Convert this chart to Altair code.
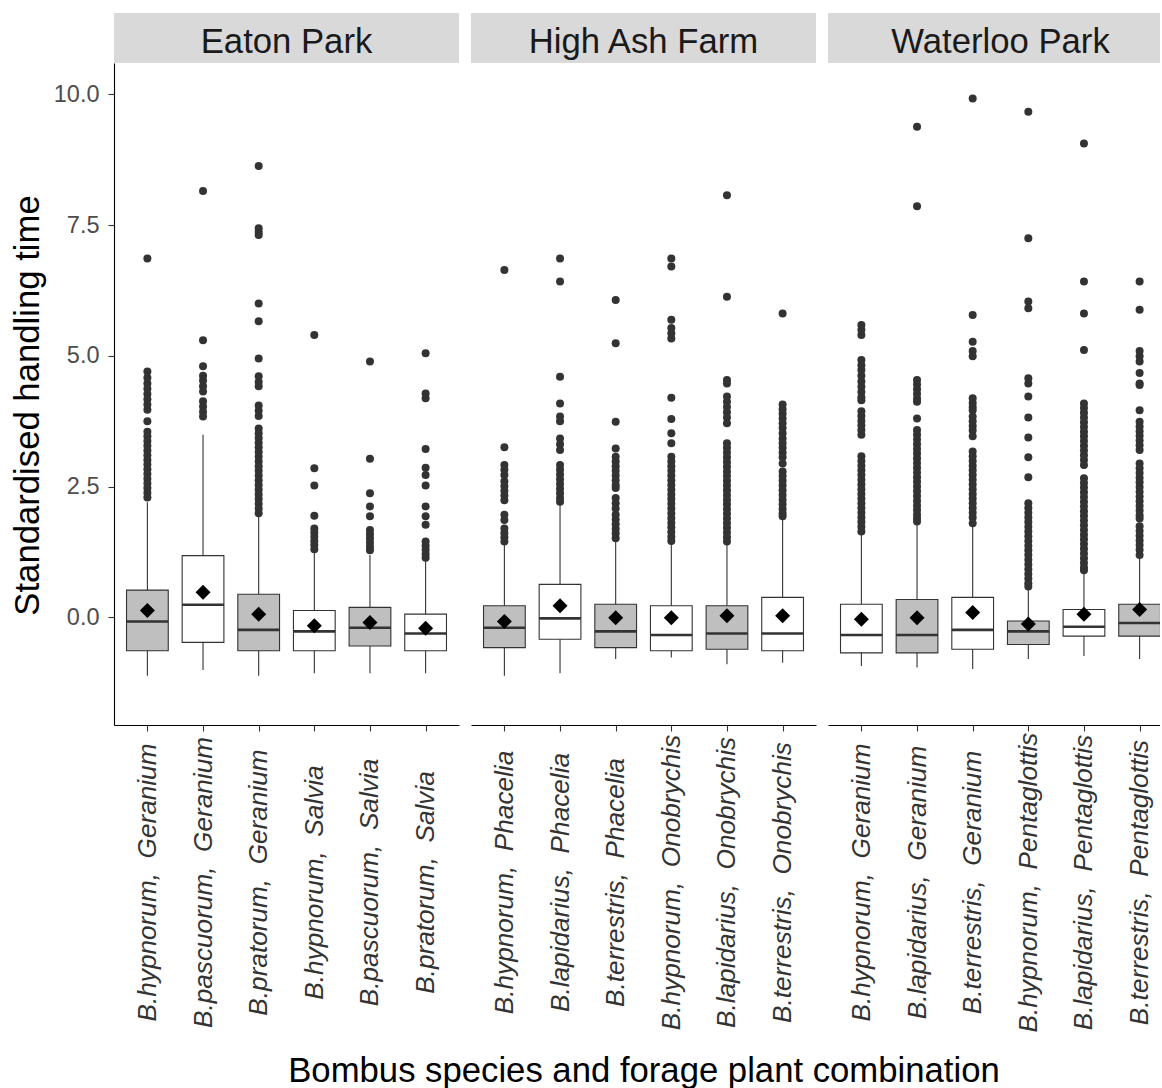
import json

import altair as alt
import pandas as pd

# ---------------------------------------------------------------------------
# Summary statistics of standardised handling time per bee/plant combination
# ---------------------------------------------------------------------------
sites = ["Eaton Park", "High Ash Farm", "Waterloo Park"]

NB = "\u00a0"  # keeps the double gap between species and plant in SVG text

eaton_labels = [f"B.hypnorum, {NB}Geranium", f"B.pascuorum, {NB}Geranium", f"B.pratorum, {NB}Geranium",
                f"B.hypnorum, {NB}Salvia", f"B.pascuorum, {NB}Salvia", f"B.pratorum, {NB}Salvia"]
eaton_lo = [-1.12, -1.01, -1.12, -1.07, -1.07, -1.07]
eaton_q1 = [-0.64, -0.48, -0.64, -0.64, -0.55, -0.64]
eaton_median = [-0.08, 0.24, -0.24, -0.27, -0.20, -0.31]
eaton_q3 = [0.52, 1.18, 0.44, 0.13, 0.19, 0.06]
eaton_hi = [2.20, 3.49, 1.96, 1.26, 1.19, 1.10]
eaton_mean = [0.13, 0.48, 0.06, -0.16, -0.10, -0.21]
eaton_group = ["A", "B", "A", "B", "A", "B"]
eaton_outliers = [
    [6.86, 4.70, 4.58, 4.47, 4.37, 4.27, 4.17, 4.07, 3.97, 3.75, 3.55, 3.46, 3.37, 3.28, 3.19,
     3.10, 3.01, 2.92, 2.83, 2.74, 2.65, 2.56, 2.47, 2.38, 2.29],
    [8.15, 5.30, 4.80, 4.62, 4.53, 4.42, 4.32, 4.13, 4.03, 3.93, 3.84],
    [8.63, 7.44, 7.37, 7.31, 6.00, 5.66, 4.95, 4.61, 4.50, 4.42, 4.05, 3.95, 3.85, 3.61, 3.52,
     3.43, 3.34, 3.25, 3.16, 3.07, 2.98, 2.89, 2.80, 2.71, 2.62, 2.53, 2.44, 2.35, 2.26, 2.17,
     2.08, 1.99],
    [5.40, 2.85, 2.52, 1.94, 1.70, 1.62, 1.54, 1.46, 1.38, 1.30],
    [4.89, 3.03, 2.37, 2.12, 1.93, 1.67, 1.59, 1.51, 1.43, 1.35, 1.28],
    [5.05, 4.28, 4.19, 3.22, 2.86, 2.72, 2.52, 2.12, 1.93, 1.77, 1.45, 1.37, 1.29, 1.21, 1.14],
]

highash_labels = [f"B.hypnorum, {NB}Phacelia", f"B.lapidarius, {NB}Phacelia", f"B.terrestris, {NB}Phacelia",
                  f"B.hypnorum, {NB}Onobrychis", f"B.lapidarius, {NB}Onobrychis", f"B.terrestris, {NB}Onobrychis"]
highash_lo = [-1.12, -1.07, -0.80, -0.77, -0.90, -0.87]
highash_q1 = [-0.58, -0.42, -0.58, -0.64, -0.61, -0.64]
highash_median = [-0.20, -0.02, -0.27, -0.34, -0.31, -0.31]
highash_q3 = [0.22, 0.63, 0.25, 0.22, 0.22, 0.38]
highash_hi = [1.42, 2.18, 1.48, 1.42, 1.42, 1.90]
highash_mean = [-0.08, 0.22, -0.01, -0.01, 0.03, 0.03]
highash_group = ["A", "B", "A", "B", "A", "B"]
highash_outliers = [
    [6.64, 3.25, 2.91, 2.82, 2.72, 2.60, 2.51, 2.42, 2.33, 2.24, 1.96, 1.86, 1.70, 1.61, 1.53, 1.45],
    [6.86, 6.42, 4.60, 4.09, 3.84, 3.75, 3.42, 3.31, 3.20, 2.91, 2.82, 2.73, 2.64, 2.55, 2.46,
     2.37, 2.28, 2.21],
    [6.07, 5.24, 3.74, 3.23, 3.07, 2.98, 2.89, 2.80, 2.71, 2.62, 2.53, 2.47, 2.28, 2.18, 2.08,
     1.96, 1.87, 1.78, 1.69, 1.60, 1.51],
    [6.86, 6.71, 5.69, 5.53, 5.43, 5.33, 4.20, 3.79, 3.52, 3.33, 3.07, 2.98, 2.89, 2.80, 2.71,
     2.62, 2.53, 2.44, 2.35, 2.26, 2.17, 2.08, 1.99, 1.90, 1.81, 1.72, 1.63, 1.54, 1.46],
    [8.07, 6.13, 4.54, 4.47, 4.22, 4.12, 4.02, 3.92, 3.82, 3.71, 3.33, 3.24, 3.15, 3.06, 2.97,
     2.88, 2.79, 2.70, 2.61, 2.52, 2.43, 2.34, 2.25, 2.16, 2.07, 1.98, 1.89, 1.80, 1.71, 1.62,
     1.53, 1.45],
    [5.81, 4.07, 3.98, 3.89, 3.80, 3.71, 3.62, 3.52, 3.42, 3.33, 3.24, 3.15, 3.06, 2.94, 2.79,
     2.70, 2.61, 2.52, 2.43, 2.34, 2.25, 2.16, 2.07, 1.99, 1.93],
]

waterloo_labels = [f"B.hypnorum, {NB}Geranium", f"B.lapidarius, {NB}Geranium", f"B.terrestris, {NB}Geranium",
                   f"B.hypnorum, {NB}Pentaglottis", f"B.lapidarius, {NB}Pentaglottis", f"B.terrestris, {NB}Pentaglottis"]
waterloo_lo = [-0.93, -0.96, -0.99, -0.80, -0.74, -0.80]
waterloo_q1 = [-0.68, -0.68, -0.61, -0.52, -0.36, -0.36]
waterloo_median = [-0.34, -0.34, -0.24, -0.27, -0.18, -0.11]
waterloo_q3 = [0.25, 0.34, 0.38, -0.07, 0.15, 0.25]
waterloo_hi = [1.60, 1.80, 1.77, 0.55, 0.86, 1.15]
waterloo_mean = [-0.04, -0.01, 0.09, -0.13, 0.06, 0.15]
waterloo_group = ["B", "A", "B", "A", "B", "A"]
waterloo_outliers = [
    [5.59, 5.50, 5.40, 4.92, 4.82, 4.73, 4.62, 4.51, 4.41, 4.31, 4.21, 4.15, 3.94, 3.85, 3.76,
     3.67, 3.58, 3.49, 3.08, 2.99, 2.90, 2.81, 2.72, 2.63, 2.54, 2.45, 2.36, 2.27, 2.18, 2.09,
     2.00, 1.91, 1.82, 1.73, 1.64],
    [9.38, 7.86, 4.54, 4.45, 4.36, 4.27, 4.18, 4.12, 3.80, 3.58, 3.49, 3.40, 3.31, 3.22, 3.13,
     3.04, 2.95, 2.86, 2.77, 2.68, 2.59, 2.50, 2.41, 2.32, 2.23, 2.14, 2.05, 1.96, 1.89, 1.83],
    [9.92, 5.78, 5.27, 5.09, 4.99, 4.19, 4.10, 4.02, 3.96, 3.84, 3.75, 3.66, 3.57, 3.46, 3.17,
     3.08, 2.99, 2.90, 2.81, 2.72, 2.63, 2.54, 2.45, 2.36, 2.27, 2.18, 2.09, 2.00, 1.91, 1.80],
    [9.67, 7.25, 6.04, 5.91, 4.57, 4.47, 4.22, 3.82, 3.44, 3.06, 2.68, 2.18, 2.09, 2.00, 1.91,
     1.82, 1.73, 1.64, 1.55, 1.46, 1.37, 1.28, 1.19, 1.10, 1.01, 0.92, 0.83, 0.74, 0.65, 0.59],
    [9.06, 6.42, 5.81, 5.11, 4.09, 4.00, 3.91, 3.82, 3.73, 3.64, 3.55, 3.46, 3.37, 3.28, 3.19,
     3.10, 3.01, 2.91, 2.66, 2.57, 2.48, 2.39, 2.30, 2.21, 2.12, 2.03, 1.94, 1.85, 1.76, 1.67,
     1.58, 1.49, 1.40, 1.31, 1.22, 1.13, 1.04, 0.95, 0.90],
    [6.42, 5.88, 5.09, 4.99, 4.89, 4.67, 4.47, 4.44, 3.96, 3.74, 3.65, 3.56, 3.47, 3.38, 3.29,
     3.20, 2.94, 2.85, 2.76, 2.67, 2.58, 2.49, 2.40, 2.31, 2.22, 2.13, 2.04, 1.95, 1.89, 1.74,
     1.65, 1.56, 1.47, 1.38, 1.29, 1.19],
]

y_ticks = [0, 2.5, 5, 7.5, 10]

# ---------------------------------------------------------------------------
# Layout constants
# ---------------------------------------------------------------------------
PANEL_W = 345          # full panel width
LAST_W = 332           # last panel runs to the page edge
PANEL_H = 662
STRIP_H = 50
UNITS = 6.2            # categories 1..6 with 0.6 expansion on both sides
DARK = "#333333"
TITLE_SIZE = 34.7

y_scale = alt.Scale(domain=[-2.06, 10.60], nice=False, zero=False)


def panel(site, labels, lo, q1, med, q3, hi, mean, group, outliers, width, first, x_title):
    pos = list(range(1, len(labels) + 1))
    boxes = pd.DataFrame({"pos": pos, "label": labels, "lo": lo, "q1": q1, "median": med,
                          "q3": q3, "hi": hi, "mean": mean, "group": group})
    points = pd.DataFrame([{"pos": p, "value": v} for p, vals in zip(pos, outliers) for v in vals])

    x_max = 0.4 + UNITS * width / PANEL_W
    x_scale = alt.Scale(domain=[0.4, x_max], nice=False, zero=False)
    label_expr = json.dumps([""] + labels, ensure_ascii=False) + "[datum.value]"
    x_axis_kw = dict(
        values=pos, labelExpr=label_expr, labelAngle=270, labelAlign="center",
        labelBaseline="middle", labelPadding=151, labelFontSize=26.2, labelFontStyle="italic",
        labelColor=DARK, labelLimit=600, labelFlush=False, labelOverlap=False,
        tickSize=6, tickColor=DARK, tickWidth=1.1, domainColor="#000000", domainWidth=1.1,
        grid=False, title=x_title, titleFontSize=TITLE_SIZE, titleFontWeight="normal",
        titleColor="#000000", titlePadding=129,
    )
    x_axis = alt.Axis(**x_axis_kw)
    if first:
        y_axis = alt.Axis(values=y_ticks, format=".1f", labelFontSize=23.5, labelColor="#4D4D4D",
                          labelPadding=9, tickSize=6, tickColor=DARK, tickWidth=1.1,
                          domainColor="#000000", domainWidth=1.1, grid=False,
                          title="Standardised handling time", titleFontSize=TITLE_SIZE,
                          titleFontWeight="normal", titleColor="#000000", titlePadding=8,
                          titleY=342)
    else:
        y_axis = None

    def X(field):
        return alt.X(field, type="quantitative", scale=x_scale, axis=x_axis)

    def Y(field):
        return alt.Y(field, type="quantitative", scale=y_scale, axis=y_axis)

    base = alt.Chart(boxes).transform_calculate(
        x_left="datum.pos - 0.375", x_right="datum.pos + 0.375"
    )

    whiskers = base.mark_rule(color=DARK, strokeWidth=1.1, clip=True).encode(
        x=X("pos"), y=Y("lo"), y2="hi:Q"
    )
    box = base.mark_rect(stroke=DARK, strokeWidth=1.1, clip=True).encode(
        x=X("x_left"), x2="x_right:Q", y=Y("q1"), y2="q3:Q",
        fill=alt.Fill("group:N", scale=alt.Scale(domain=["A", "B"], range=["#BFBFBF", "#FFFFFF"]),
                      legend=None),
    )
    median = base.mark_rule(color=DARK, strokeWidth=2.6, clip=True).encode(
        x=X("x_left"), x2="x_right:Q", y=Y("median")
    )
    outl = alt.Chart(points).mark_circle(size=64, color=DARK, opacity=1, clip=True).encode(
        x=X("pos"), y=Y("value")
    )
    means = base.mark_point(shape="diamond", filled=True, size=225, color="#000000",
                            opacity=1, clip=True).encode(x=X("pos"), y=Y("mean"))

    strip_df = pd.DataFrame({"site": [site]})
    strip = alt.Chart(strip_df).mark_rect(color="#D9D9D9").encode(
        x=alt.value(0), x2=alt.value(width), y=alt.value(-STRIP_H), y2=alt.value(0)
    )
    strip_text = alt.Chart(strip_df).mark_text(
        fontSize=TITLE_SIZE, color="#1A1A1A", align="center", baseline="alphabetic"
    ).encode(text="site:N", x=alt.value(PANEL_W / 2), y=alt.value(-10))

    return alt.layer(strip, strip_text, whiskers, box, median, outl, means).properties(
        width=width, height=PANEL_H
    )


p1 = panel(sites[0], eaton_labels, eaton_lo, eaton_q1, eaton_median, eaton_q3, eaton_hi,
           eaton_mean, eaton_group, eaton_outliers, PANEL_W, True, None)
p2 = panel(sites[1], highash_labels, highash_lo, highash_q1, highash_median, highash_q3,
           highash_hi, highash_mean, highash_group, highash_outliers, PANEL_W, False,
           "Bombus species and forage plant combination")
p3 = panel(sites[2], waterloo_labels, waterloo_lo, waterloo_q1, waterloo_median, waterloo_q3,
           waterloo_hi, waterloo_mean, waterloo_group, waterloo_outliers, LAST_W, False, None)

chart = alt.hconcat(p1, p2, p3, spacing=12, bounds="flush").properties(
    padding={"left": 10, "top": 13, "right": 0, "bottom": 0}
).configure(font="Liberation Sans").configure_view(stroke=None)

chart.save("out.html", embed_options={"renderer": "svg", "actions": False})
